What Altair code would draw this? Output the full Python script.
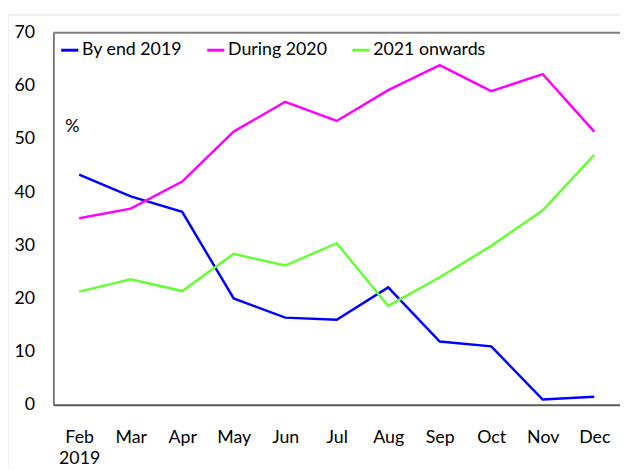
import altair as alt
import pandas as pd

months = ["Feb", "Mar", "Apr", "May", "Jun", "Jul", "Aug", "Sep", "Oct", "Nov", "Dec"]
by_end_2019 = [43.3, 39.2, 36.3, 20.0, 16.4, 16.0, 22.1, 11.9, 11.0, 1.0, 1.5]
during_2020 = [35.1, 36.9, 42.0, 51.4, 57.0, 53.4, 59.2, 63.9, 59.0, 62.2, 51.4]
onwards_2021 = [21.3, 23.6, 21.4, 28.4, 26.2, 30.4, 18.6, 24.0, 29.9, 36.6, 47.0]
series_names = ["By end 2019", "During 2020", "2021 onwards"]
series_colors = ["#0000ff", "#ff00ff", "#66ff33"]
y_ticks = [0, 10, 20, 30, 40, 50, 60, 70]
unit_label = "%"

rows = []
for name, vals in zip(series_names, [by_end_2019, during_2020, onwards_2021]):
    for m, v in zip(months, vals):
        rows.append({"month": m, "series": name, "value": v})
df = pd.DataFrame(rows)
one = pd.DataFrame({"t": [unit_label]})

FONT = "Lato"
FS = 18
W, H = 574, 377

x_enc = alt.X(
    "month:N", sort=months,
    scale=alt.Scale(type="point", padding=0.5, domain=months),
    axis=alt.Axis(
        title=None, labelAngle=0, ticks=False, grid=False,
        labelExpr="datum.value == 'Feb' ? ['Feb', '2019'] : datum.value",
        labelBaseline="top", labelPadding=24, labelLineHeight=21,
        labelFontSize=FS, labelColor="black", labelFont=FONT,
        domainColor="#595959", domainWidth=2,
    ),
)
y_enc = alt.Y(
    "value:Q",
    scale=alt.Scale(domain=[0, 70], nice=False),
    axis=alt.Axis(
        title=None, values=y_ticks, ticks=False, grid=False,
        labelPadding=19, labelFontSize=FS, labelColor="black", labelFont=FONT,
        domainColor="#595959", domainWidth=1.5,
    ),
)

lines = alt.Chart(df).mark_line(strokeWidth=2.5).encode(
    x=x_enc,
    y=y_enc,
    color=alt.Color(
        "series:N", sort=series_names,
        scale=alt.Scale(domain=series_names, range=series_colors),
        legend=alt.Legend(
            title=None, orient="none", legendX=6, legendY=7,
            direction="horizontal", symbolType="stroke", symbolSize=300,
            symbolStrokeWidth=3, labelFontSize=FS, labelFont=FONT,
            labelColor="black", columnPadding=18, labelOffset=2,
        ),
    ),
)

top_rule = alt.Chart(one).mark_rule(color="#7f7f7f", strokeWidth=2).encode(
    x=alt.value(0), x2=alt.value(W), y=alt.value(0)
)

outer = alt.Chart(one).mark_rect(
    fill=None, stroke="#e3e3e3", strokeWidth=1, clip=False
).encode(
    x=alt.value(-46), x2=alt.value(W + 20), y=alt.value(-18), y2=alt.value(H + 90)
)

pct = alt.Chart(one).mark_text(
    fontSize=FS, font=FONT, color="black", dx=-7
).encode(text="t:N", x=alt.datum("Feb"), y=alt.datum(52.2))

chart = alt.layer(outer, top_rule, lines, pct).properties(
    width=W, height=H,
    padding={"left": 46, "top": 22, "right": 0, "bottom": 62},
    autosize=alt.AutoSizeParams(type="none"),
).configure_view(stroke=None)

chart.save("out.html", embed_options={"renderer": "svg", "actions": False})
